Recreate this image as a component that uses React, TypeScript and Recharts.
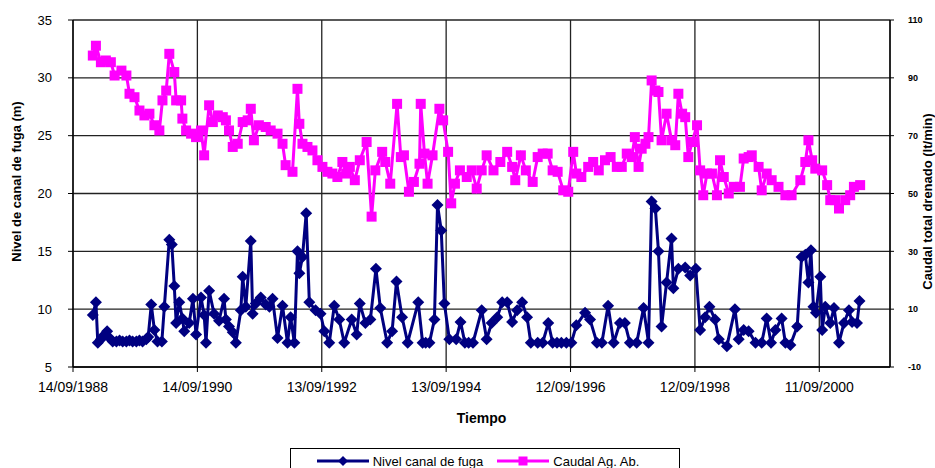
import { ComposedChart, Line, XAxis, YAxis, CartesianGrid, Legend } from 'recharts';

// Fechas en años decimales
const nivelYears = [
  1989.02, 1989.07, 1989.1, 1989.15, 1989.21, 1989.25, 1989.29, 1989.34, 1989.4, 1989.45,
  1989.5, 1989.56, 1989.61, 1989.66, 1989.72, 1989.77, 1989.82, 1989.88, 1989.91, 1989.96,
  1990.01, 1990.06, 1990.13, 1990.17, 1990.25, 1990.29, 1990.33, 1990.36, 1990.41, 1990.46,
  1990.49, 1990.57, 1990.63, 1990.68, 1990.76, 1990.81, 1990.84, 1990.89, 1990.97, 1991.05,
  1991.13, 1991.16, 1991.21, 1991.27, 1991.32, 1991.4, 1991.43, 1991.48, 1991.56, 1991.59,
  1991.64, 1991.72, 1991.8, 1991.86, 1991.91, 1991.99, 1992.07, 1992.15, 1992.2, 1992.26,
  1992.31, 1992.34, 1992.39, 1992.45, 1992.5, 1992.6, 1992.68, 1992.74, 1992.82, 1992.9,
  1992.98, 1993.06, 1993.18, 1993.26, 1993.31, 1993.4, 1993.48, 1993.57, 1993.64, 1993.75,
  1993.83, 1993.9, 1993.99, 1994.08, 1994.25, 1994.32, 1994.37, 1994.43, 1994.51, 1994.56,
  1994.62, 1994.67, 1994.75, 1994.86, 1994.93, 1995.0, 1995.06, 1995.13, 1995.27, 1995.35,
  1995.43, 1995.52, 1995.6, 1995.68, 1995.76, 1995.84, 1995.92, 1996.0, 1996.06, 1996.17,
  1996.25, 1996.34, 1996.41, 1996.48, 1996.55, 1996.63, 1996.71, 1996.79, 1996.93, 1997.01,
  1997.12, 1997.2, 1997.3, 1997.39, 1997.49, 1997.57, 1997.65, 1997.76, 1997.87, 1997.95,
  1998.0, 1998.06, 1998.11, 1998.16, 1998.24, 1998.32, 1998.35, 1998.43, 1998.54, 1998.62,
  1998.71, 1998.78, 1998.86, 1998.93, 1999.02, 1999.08, 1999.21, 1999.34, 1999.4, 1999.48,
  1999.56, 1999.67, 1999.77, 1999.85, 1999.92, 1999.99, 2000.09, 2000.15, 2000.23, 2000.34,
  2000.41, 2000.47, 2000.52, 2000.56, 2000.6, 2000.64, 2000.71, 2000.74, 2000.79, 2000.87,
  2000.93, 2001.01, 2001.09, 2001.17, 2001.22, 2001.3, 2001.34,
];
const nivelValues = [
  9.5, 10.6, 7.1, 7.4, 7.8, 8.1, 7.5, 7.2, 7.2, 7.3,
  7.2, 7.2, 7.3, 7.2, 7.2, 7.3, 7.2, 7.4, 7.6, 10.4,
  8.2, 7.2, 7.2, 10.2, 16.0, 15.6, 12.0, 8.8, 10.6, 9.2,
  8.1, 8.8, 10.9, 7.8, 11.0, 9.5, 7.1, 11.6, 9.6, 9.0,
  10.9, 9.1, 8.5, 8.0, 7.1, 9.9, 12.8, 10.2, 15.9, 9.6,
  10.5, 11.0, 10.4, 10.2, 10.9, 7.5, 10.3, 7.1, 9.3, 7.1,
  15.0, 13.1, 14.5, 18.3, 10.6, 9.9, 9.6, 8.1, 7.1, 10.3,
  9.1, 7.1, 9.1, 7.8, 10.5, 8.8, 9.1, 13.5, 10.1, 7.1,
  8.1, 12.4, 9.3, 7.1, 10.6, 7.1, 7.1, 7.1, 9.1, 19.0,
  16.8, 10.5, 7.4, 7.4, 8.9, 7.1, 7.1, 7.1, 9.9, 7.4,
  8.8, 9.3, 10.6, 10.6, 8.9, 9.9, 10.6, 9.3, 7.1, 7.1,
  7.1, 8.8, 7.1, 7.1, 7.1, 7.1, 7.1, 8.6, 9.7, 9.1,
  7.1, 7.1, 10.3, 7.1, 8.8, 8.8, 7.1, 7.1, 10.1, 7.1,
  19.3, 18.7, 15.0, 8.5, 12.3, 16.1, 11.8, 13.5, 13.6, 12.9,
  13.5, 8.2, 9.3, 10.2, 9.1, 7.4, 6.8, 10.0, 7.4, 8.2,
  8.1, 7.1, 7.1, 9.2, 7.1, 8.2, 9.2, 7.1, 6.9, 8.5,
  14.5, 14.7, 12.3, 15.1, 10.2, 9.7, 12.8, 8.2, 10.2, 8.8,
  10.1, 7.1, 8.8, 9.9, 8.9, 8.8, 10.7,
];

const caudalYears = [
  1989.02, 1989.07, 1989.15, 1989.23, 1989.31, 1989.37, 1989.48, 1989.56, 1989.61, 1989.69,
  1989.77, 1989.85, 1989.93, 1990.01, 1990.09, 1990.14, 1990.2, 1990.25, 1990.33, 1990.36,
  1990.44, 1990.46, 1990.52, 1990.6, 1990.68, 1990.76, 1990.81, 1990.89, 1990.95, 1991.03,
  1991.11, 1991.16, 1991.21, 1991.27, 1991.35, 1991.43, 1991.51, 1991.56, 1991.61, 1991.69,
  1991.8, 1991.88, 1991.99, 1992.07, 1992.12, 1992.23, 1992.31, 1992.34, 1992.39, 1992.47,
  1992.55, 1992.63, 1992.71, 1992.79, 1992.87, 1992.95, 1993.03, 1993.09, 1993.15, 1993.23,
  1993.31, 1993.42, 1993.5, 1993.56, 1993.67, 1993.72, 1993.8, 1993.91, 1993.97, 1994.02,
  1994.1, 1994.18, 1994.27, 1994.29, 1994.35, 1994.4, 1994.48, 1994.59, 1994.65, 1994.73,
  1994.78, 1994.84, 1994.92, 1995.03, 1995.11, 1995.19, 1995.27, 1995.35, 1995.46, 1995.57,
  1995.68, 1995.76, 1995.81, 1995.9, 1995.98, 1996.09, 1996.17, 1996.25, 1996.33, 1996.41,
  1996.49, 1996.58, 1996.66, 1996.74, 1996.79, 1996.87, 1996.98, 1997.06, 1997.15, 1997.25,
  1997.34, 1997.44, 1997.52, 1997.6, 1997.68, 1997.73, 1997.79, 1997.84, 1997.9, 1997.95,
  1998.0, 1998.06, 1998.11, 1998.16, 1998.24, 1998.32, 1998.38, 1998.43, 1998.49, 1998.54,
  1998.59, 1998.65, 1998.73, 1998.78, 1998.83, 1998.89, 1998.97, 1999.05, 1999.1, 1999.16,
  1999.24, 1999.32, 1999.42, 1999.48, 1999.56, 1999.61, 1999.72, 1999.77, 1999.85, 1999.93,
  2000.04, 2000.15, 2000.25, 2000.39, 2000.47, 2000.52, 2000.58, 2000.63, 2000.74, 2000.82,
  2000.87, 2000.95, 2001.01, 2001.11, 2001.19, 2001.25, 2001.35,
];
const caudalValues = [
  97.7, 101.1, 95.4, 96.0, 95.4, 90.8, 92.5, 90.8, 84.5, 83.3,
  78.7, 77.0, 77.6, 73.6, 71.8, 82.2, 85.6, 98.3, 92.0, 82.2,
  82.2, 75.9, 71.8, 70.7, 69.5, 71.8, 63.2, 80.5, 74.7, 77.0,
  76.4, 75.3, 71.8, 66.1, 67.2, 74.7, 75.3, 79.3, 68.4, 73.6,
  73.0, 71.8, 70.7, 67.2, 59.8, 57.5, 86.2, 74.1, 67.2, 66.1,
  64.9, 61.5, 59.2, 57.5, 56.9, 55.7, 60.9, 56.9, 59.2, 54.6,
  61.5, 67.8, 42.0, 58.0, 64.4, 60.9, 53.4, 81.0, 62.6, 63.2,
  50.6, 54.0, 60.3, 81.0, 63.8, 53.4, 63.2, 79.3, 75.3, 64.4,
  46.6, 53.4, 58.0, 55.7, 58.0, 51.7, 58.0, 63.2, 58.0, 60.9,
  64.4, 59.2, 54.6, 63.2, 58.0, 54.0, 62.6, 63.8, 63.8, 58.0,
  57.5, 51.1, 50.6, 64.4, 56.9, 55.7, 59.2, 60.9, 58.0, 61.5,
  62.6, 59.2, 59.2, 63.8, 62.6, 69.5, 59.2, 65.5, 67.2, 69.5,
  89.1, 85.6, 85.1, 68.4, 77.6, 68.4, 66.7, 84.5, 77.6, 76.4,
  62.6, 67.8, 73.6, 58.0, 49.4, 56.9, 56.9, 49.4, 61.5, 55.7,
  50.0, 52.3, 52.3, 62.1, 62.6, 63.2, 59.2, 51.1, 56.9, 54.6,
  52.3, 49.4, 49.4, 54.6, 60.9, 68.4, 61.5, 58.6, 58.0, 52.9,
  47.7, 47.7, 44.8, 47.7, 49.4, 52.3, 52.9,
];

const xTickLabels = ['14/09/1988', '14/09/1990', '13/09/1992', '13/09/1994', '12/09/1996', '12/09/1998', '11/09/2000'];
const xAxisEnd = '31/10/2001';
const leftTicks = [5, 10, 15, 20, 25, 30, 35];
const rightTicks = [-10, 10, 30, 50, 70, 90, 110];

const FONT = '"Liberation Sans", Arial, sans-serif';
const NAVY = '#000080';
const MAGENTA = '#ff00ff';

function yearToTime(v: number): number {
  const y = Math.floor(v);
  const a = Date.UTC(y, 0, 1);
  const b = Date.UTC(y + 1, 0, 1);
  return a + (v - y) * (b - a);
}

function parseDmy(s: string): number {
  const [d, m, y] = s.split('/').map(Number);
  return Date.UTC(y, m - 1, d);
}

const pad = (n: number) => String(n).padStart(2, '0');
function formatDmy(t: number): string {
  const d = new Date(t);
  return `${pad(d.getUTCDate())}/${pad(d.getUTCMonth() + 1)}/${d.getUTCFullYear()}`;
}

const nivelData = nivelYears.map((y, i) => ({ t: yearToTime(y), v: nivelValues[i] }));
const caudalData = caudalYears.map((y, i) => ({ t: yearToTime(y), v: caudalValues[i] }));
const xTicks = xTickLabels.map(parseDmy);

const renderDiamond = (p: any) => {
  const { cx, cy, index } = p;
  if (cx == null || cy == null) return <g key={`d-${index}`} />;
  return <path key={`d-${index}`} d={`M${cx},${cy - 6}L${cx + 6},${cy}L${cx},${cy + 6}L${cx - 6},${cy}Z`} fill={NAVY} />;
};

const renderSquare = (p: any) => {
  const { cx, cy, index } = p;
  if (cx == null || cy == null) return <g key={`s-${index}`} />;
  return <rect key={`s-${index}`} x={cx - 5} y={cy - 5} width={10} height={10} fill={MAGENTA} />;
};

function LegendBox() {
  const item = (color: string, marker: React.ReactNode, text: string) => (
    <div style={{ display: 'flex', alignItems: 'center', marginRight: 14 }}>
      <svg width={52} height={12}>
        <line x1={0} y1={6} x2={52} y2={6} stroke={color} strokeWidth={3} />
        {marker}
      </svg>
      <span style={{ marginLeft: 4 }}>{text}</span>
    </div>
  );
  return (
    <div
      style={{
        border: '1px solid #000',
        height: 26,
        boxSizing: 'border-box',
        display: 'flex',
        alignItems: 'center',
        justifyContent: 'center',
        fontFamily: FONT,
        fontSize: 13,
        color: '#000',
        background: '#fff',
      }}
    >
      {item(NAVY, <path d="M26,1L31,6L26,11L21,6Z" fill={NAVY} />, 'Nivel canal de fuga')}
      {item(MAGENTA, <rect x={21.5} y={1.5} width={9} height={9} fill={MAGENTA} />, 'Caudal Ag. Ab.')}
    </div>
  );
}

export default function App() {
  return (
    <div style={{ position: 'absolute', left: 0, top: 0, width: 935, height: 468, overflow: 'hidden', background: '#fff' }}>
      <ComposedChart width={935} height={468} margin={{ top: 20, right: 0, bottom: 0, left: 0 }}>
        <CartesianGrid yAxisId="left" stroke="#222" strokeWidth={1.3} />
        <XAxis
          type="number"
          dataKey="t"
          domain={[xTicks[0], parseDmy(xAxisEnd)]}
          ticks={xTicks}
          tickFormatter={formatDmy}
          allowDataOverflow
          height={75}
          axisLine={{ stroke: '#000', strokeWidth: 1.3 }}
          tickLine={{ stroke: '#000' }}
          tickSize={5}
          tickMargin={10}
          tick={{ fill: '#000', fontSize: 14, fontFamily: FONT }}
          label={{
            content: ({ viewBox }: any) => (
              <text x={viewBox.x + viewBox.width / 2} y={viewBox.y + 56} textAnchor="middle" fontFamily={FONT} fontSize={14} fontWeight="bold" fill="#000">
                Tiempo
              </text>
            ),
          }}
        />
        <YAxis
          yAxisId="left"
          domain={[5, 35]}
          ticks={leftTicks}
          width={73}
          axisLine={{ stroke: '#000', strokeWidth: 1.3 }}
          tickLine={{ stroke: '#000' }}
          tickSize={5}
          tickMargin={16}
          tick={{ fill: '#000', fontSize: 13, fontFamily: FONT }}
          label={{
            content: ({ viewBox }: any) => {
              const x = viewBox.x + 18;
              const y = viewBox.y + viewBox.height / 2 - 12;
              return (
                <text x={x} y={y} transform={`rotate(-90, ${x}, ${y})`} textAnchor="middle" dominantBaseline="middle" fontFamily={FONT} fontSize={13} fontWeight="bold" fill="#000">
                  Nivel de canal de fuga (m)
                </text>
              );
            },
          }}
        />
        <YAxis
          yAxisId="right"
          orientation="right"
          domain={[-10, 110]}
          ticks={rightTicks}
          width={45}
          axisLine={{ stroke: '#000', strokeWidth: 1.3 }}
          tickLine={{ stroke: '#000' }}
          tickSize={4}
          tickMargin={14}
          tick={{ fill: '#000', fontSize: 9, fontWeight: 'bold', fontFamily: FONT }}
          label={{
            content: ({ viewBox }: any) => {
              const x = viewBox.x + 39;
              const y = viewBox.y + viewBox.height / 2 + 8;
              return (
                <text x={x} y={y} transform={`rotate(-90, ${x}, ${y})`} textAnchor="middle" dominantBaseline="middle" fontFamily={FONT} fontSize={13} fontWeight="bold" fill="#000">
                  Caudal total drenado (lt/min)
                </text>
              );
            },
          }}
        />
        <Legend content={() => <LegendBox />} wrapperStyle={{ left: 290, width: 390, bottom: 'auto', top: 448 }} />
        <Line
          data={nivelData}
          dataKey="v"
          yAxisId="left"
          type="linear"
          stroke={NAVY}
          strokeWidth={3}
          dot={renderDiamond}
          activeDot={false}
          isAnimationActive={false}
          name="Nivel canal de fuga"
        />
        <Line
          data={caudalData}
          dataKey="v"
          yAxisId="right"
          type="linear"
          stroke={MAGENTA}
          strokeWidth={3}
          dot={renderSquare}
          activeDot={false}
          isAnimationActive={false}
          name="Caudal Ag. Ab."
        />
      </ComposedChart>
    </div>
  );
}
